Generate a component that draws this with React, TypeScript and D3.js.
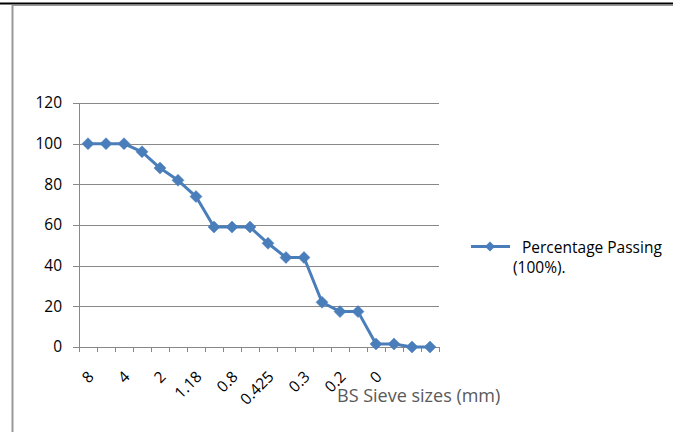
import React from "react";
import * as d3 from "d3";

const categories = ["8", "6.3", "4", "3.35", "2", "1.7", "1.18", "1", "0.8", "0.6", "0.425", "0.35", "0.3", "0.25", "0.2", "0.15", "0", "", "", ""];
const passing = [100, 100, 100, 96, 88, 82, 74, 59, 59, 59, 51, 44, 44, 22, 17.4, 17.4, 1.5, 1.5, 0, 0];
const yTicks = [0, 20, 40, 60, 80, 100, 120];
const seriesName = ["Percentage Passing", "(100%)."];
const xTitle = "BS Sieve sizes (mm)";

const W = 673, H = 432;
const FONT = "'Open Sans', sans-serif";
const BLUE = "#4A7EBB";

export default function App() {
  const x = d3.scaleBand<number>().domain(d3.range(categories.length)).range([79, 439]);
  const y = d3.scaleLinear().domain([0, 120]).range([347, 103]);
  const line = d3.line<number>().x((_, i) => x(i)! + x.bandwidth() / 2).y((d) => y(d));
  const diamond = (cx: number, cy: number, r: number) => `M${cx},${cy - r}L${cx + r},${cy}L${cx},${cy + r}L${cx - r},${cy}Z`;
  const tickXs = d3.range(categories.length + 1).map((i) => (i < categories.length ? x(i)! : x.range()[1]));

  return (
    <svg width={W} height={H} style={{ position: "absolute", left: 0, top: 0, background: "#fff" }}>
      <rect x={0} y={0} width={W} height={H} fill="#fff" />
      {/* frame */}
      <line x1={0} x2={W} y1={3.5} y2={3.5} stroke="#000" strokeWidth={2} />
      <line x1={12} x2={W} y1={5.5} y2={5.5} stroke="#999" strokeWidth={1} />
      <line x1={12.5} x2={12.5} y1={5} y2={H} stroke="#999" strokeWidth={2} />

      {/* gridlines */}
      {yTicks.map((t) => (
        <line key={t} x1={73} x2={439} y1={Math.round(y(t)) + 0.5} y2={Math.round(y(t)) + 0.5} stroke="#888" strokeWidth={1} />
      ))}
      {/* y axis */}
      <line x1={79.5} x2={79.5} y1={y(120)} y2={y(0)} stroke="#888" strokeWidth={1} />
      {yTicks.map((t) => (
        <text key={t} x={62} y={y(t)} dy="0.35em" textAnchor="end" fontFamily={FONT} fontSize={15.5} fill="#000">
          {t}
        </text>
      ))}
      {/* x ticks */}
      {tickXs.map((tx, i) => (
        <line key={i} x1={Math.round(tx) + 0.5} x2={Math.round(tx) + 0.5} y1={y(0)} y2={y(0) + 5} stroke="#888" strokeWidth={1} />
      ))}
      {categories.map((c, i) =>
        i % 2 === 0 && c ? (
          <text
            key={i}
            transform={`translate(${x(i)! + x.bandwidth() / 2 - 2},${369}) rotate(-45)`}
            textAnchor="end"
            dy="0.8em"
            fontFamily={FONT}
            fontSize={15.5}
            fill="#000"
          >
            {c}
          </text>
        ) : null
      )}
      <text x={337} y={402} fontFamily={FONT} fontSize={18} fill="#595959">
        {xTitle}
      </text>

      {/* series */}
      <path d={line(passing) || ""} fill="none" stroke={BLUE} strokeWidth={3} strokeLinejoin="round" />
      {passing.map((v, i) => (
        <path key={i} d={diamond(x(i)! + x.bandwidth() / 2, y(v), 6)} fill={BLUE} stroke={BLUE} strokeWidth={0.5} />
      ))}

      {/* legend */}
      <line x1={471} x2={510} y1={246.5} y2={246.5} stroke={BLUE} strokeWidth={3} />
      <path d={diamond(490, 246.5, 5)} fill={BLUE} />
      <text x={522} y={253} fontFamily={FONT} fontSize={15.5} fill="#000">
        {seriesName[0]}
      </text>
      <text x={513} y={273} fontFamily={FONT} fontSize={15.5} fill="#000">
        {seriesName[1]}
      </text>
    </svg>
  );
}
